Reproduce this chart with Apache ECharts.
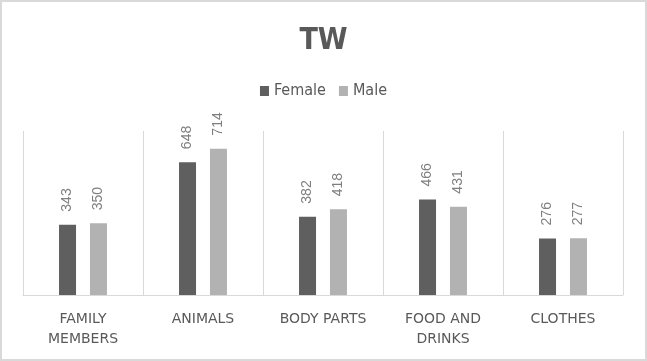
<!DOCTYPE html>
<html><head><meta charset="utf-8">
<script src="https://cdn.jsdelivr.net/npm/echarts@6/dist/echarts.min.js"></script>
<style>html,body{margin:0;padding:0;background:#fff}#c{width:647px;height:361px}</style>
</head><body><div id="c"></div>
<script>
const categories = ['FAMILY MEMBERS', 'ANIMALS', 'BODY PARTS', 'FOOD AND DRINKS', 'CLOTHES'];
const female = [343, 648, 382, 466, 276];
const male = [350, 714, 418, 431, 277];
const wrapped = {'FAMILY MEMBERS': 'FAMILY\nMEMBERS', 'FOOD AND DRINKS': 'FOOD AND\nDRINKS'};
const narrow = "'Liberation Sans Narrow','DejaVu Sans Condensed',sans-serif";
const chart = echarts.init(document.getElementById('c'));
const lbl = {show: true, position: 'top', rotate: 90, align: 'left', verticalAlign: 'middle', distance: 13,
  color: '#7f7f7f', fontSize: 14, fontFamily: 'Liberation Sans'};
chart.setOption({
  animation: false,
  graphic: [{type: 'rect', shape: {x: 1, y: 1, width: 645, height: 359}, style: {fill: 'none', stroke: '#d9d9d9', lineWidth: 2}}],
  title: {text: 'TW', left: 'center', top: 21, textStyle: {fontFamily: narrow, fontWeight: 'bold', fontSize: 30, color: '#595959'}},
  legend: {data: ['Female', 'Male'], left: 'center', top: 78, icon: 'rect', itemWidth: 9, itemHeight: 10, itemGap: 13,
    textStyle: {fontFamily: narrow, fontSize: 16, color: '#595959'}},
  grid: {left: 23, right: 24, top: 131, bottom: 66},
  xAxis: {type: 'category', data: categories,
    axisLine: {show: true, lineStyle: {color: '#d9d9d9', width: 1}},
    axisTick: {show: false},
    splitLine: {show: true, lineStyle: {color: '#d9d9d9', width: 1}},
    axisLabel: {interval: 0, margin: 14, lineHeight: 20, color: '#595959', fontSize: 14, fontFamily: 'DejaVu Sans',
      formatter: v => wrapped[v] || v}},
  yAxis: {type: 'value', min: 0, max: 800, show: false, splitLine: {show: false}},
  series: [
    {name: 'Female', type: 'bar', data: female, barWidth: 17, barGap: '82%', itemStyle: {color: '#5f5f5f'}, label: lbl},
    {name: 'Male', type: 'bar', data: male, barWidth: 17, itemStyle: {color: '#b2b2b2'}, label: lbl}
  ]
});
</script></body></html>
